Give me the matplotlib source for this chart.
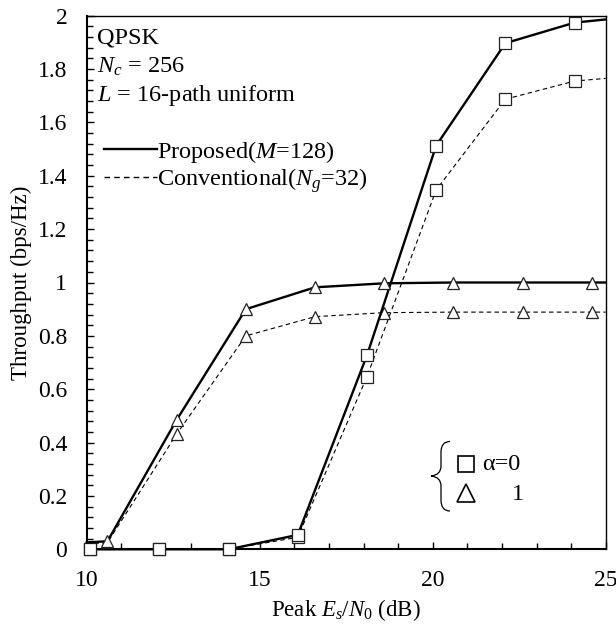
import matplotlib
matplotlib.use("Agg")
import matplotlib.pyplot as plt
from matplotlib.path import Path
from matplotlib.patches import PathPatch
from matplotlib.ticker import MultipleLocator, FuncFormatter

plt.rcParams['font.family'] = ['Liberation Serif', 'DejaVu Serif']
plt.rcParams['mathtext.fontset'] = 'custom'
plt.rcParams['mathtext.rm'] = 'Liberation Serif'
plt.rcParams['mathtext.it'] = 'Liberation Serif:italic'
plt.rcParams['mathtext.bf'] = 'Liberation Serif:bold'

# ---- data ----
# alpha = 0 (squares)
x_a0 = [10, 10.1, 12.1, 14.1, 16.1, 18.1, 20.1, 22.1, 24.1, 25]
prop_a0 = [0.0, 0.0, 0.0, 0.0, 0.054, 0.727, 1.513, 1.897, 1.974, 1.986]
conv_a0 = [0.0, 0.0, 0.0, 0.0, 0.045, 0.647, 1.347, 1.687, 1.755, 1.765]
# alpha = 1 (triangles)
x_a1 = [10, 10.6, 12.6, 14.6, 16.6, 18.6, 20.6, 22.6, 24.6, 25]
prop_a1 = [0.026, 0.03, 0.485, 0.90, 0.982, 0.997, 1.0, 1.0, 1.0, 1.0]
conv_a1 = [0.02, 0.025, 0.432, 0.80, 0.872, 0.887, 0.889, 0.889, 0.889, 0.889]

xticks = [10, 15, 20, 25]
yticks = [0, 0.2, 0.4, 0.6, 0.8, 1.0, 1.2, 1.4, 1.6, 1.8, 2.0]

W, H = 616, 626
fig = plt.figure(figsize=(W / 100, H / 100), dpi=100)
L, R, T, B = 86.7, 605.7, 15.7, 549.3
ax = fig.add_axes([L / W, 1 - B / H, (R - L) / W, (B - T) / H])

mk = slice(1, -1)
solid = dict(color='black', lw=1.7, ls='-')
dashed = dict(color='black', lw=0.8, ls=(0, (4, 3)))
sq = dict(marker='s', ms=8, mfc='white', mec='#222222', mew=0.9)
tri = dict(marker='^', ms=8.5, mfc='white', mec='#222222', mew=0.9)

ax.plot(x_a0, conv_a0, markevery=mk, clip_on=False, zorder=3, **dashed, **sq)
ax.plot(x_a1, conv_a1, markevery=mk, clip_on=False, zorder=3, **dashed, **tri)
ax.plot(x_a0, prop_a0, markevery=mk, clip_on=False, zorder=4, **solid, **sq)
ax.plot(x_a1, prop_a1, markevery=mk, clip_on=False, zorder=4, **solid, **tri)

ax.set_xlim(10, 25)
ax.set_ylim(0, 2)
ax.set_xticks(xticks)
ax.set_yticks(yticks)
ax.xaxis.set_minor_locator(MultipleLocator(1))
ax.yaxis.set_minor_locator(MultipleLocator(0.04))
ax.yaxis.set_major_formatter(FuncFormatter(lambda v, p: f"{v:g}"))
ax.tick_params(which='both', direction='in', top=False, right=False,
               labelsize=17, width=1.0)
ax.tick_params(which='major', length=5)
ax.tick_params(which='minor', length=4)
ax.tick_params(axis='x', pad=15)
ax.tick_params(axis='y', pad=14)
for s in ax.spines.values():
    s.set_linewidth(1.0)
ax.spines['left'].set_linewidth(1.5)
ax.spines['bottom'].set_linewidth(1.5)

ax.set_xlabel(r'Peak $E_s/N_0$ (dB)', fontsize=16.5, labelpad=4)
ax.set_ylabel('Throughput (bps/Hz)', fontsize=16.5, labelpad=4)


def px(x, y):
    return ((x - L) / (R - L), (B - y) / (B - T))


fs = 17.5
ax.text(*px(97, 38), 'QPSK', fontsize=fs, va='center', ha='left', transform=ax.transAxes)
ax.text(*px(97, 67), r'$N_c$ = 256', fontsize=fs, va='center', ha='left', transform=ax.transAxes)
ax.text(*px(97, 95), r'$L$ = 16-path uniform', fontsize=fs, va='center', ha='left', transform=ax.transAxes)

leg = ax.legend(
    [plt.Line2D([], [], **solid), plt.Line2D([], [], color='black', lw=1.0, ls=(0, (4, 3)))],
    [r'Proposed($M$=128)', r'Conventional($N_g$=32)'],
    loc='upper left', bbox_to_anchor=px(104, 139), frameon=False, borderpad=0,
    borderaxespad=0, handlelength=2.2, handletextpad=0.0, labelspacing=0.05,
    fontsize=fs)

# marker legend with brace
ax.plot(*px(465.7, 464), transform=ax.transAxes, marker='s', ms=11.5, mfc='white',
        mec='black', mew=1.2, clip_on=False)
ax.plot(*px(465.7, 493), transform=ax.transAxes, marker='^', ms=13, mfc='white',
        mec='black', mew=1.2, clip_on=False)
ax.text(*px(482, 465), r'α=0', fontsize=fs, va='center', ha='left', transform=ax.transAxes)
ax.text(*px(518, 494), '1', fontsize=fs, va='center', ha='center', transform=ax.transAxes)

pts = [(450, 441.5), (441, 441.5), (441, 452), (441, 466),
       (441, 475), (431, 476), (441, 477), (441, 486), (441, 500),
       (441, 511), (450, 511)]
codes = [Path.MOVETO, Path.CURVE3, Path.CURVE3, Path.LINETO,
         Path.CURVE3, Path.CURVE3, Path.CURVE3, Path.CURVE3, Path.LINETO,
         Path.CURVE3, Path.CURVE3]
brace = Path([px(*p) for p in pts], codes)
ax.add_patch(PathPatch(brace, fc='none', ec='black', lw=0.9, transform=ax.transAxes,
                       clip_on=False))

fig.savefig('out.png', dpi=100)
